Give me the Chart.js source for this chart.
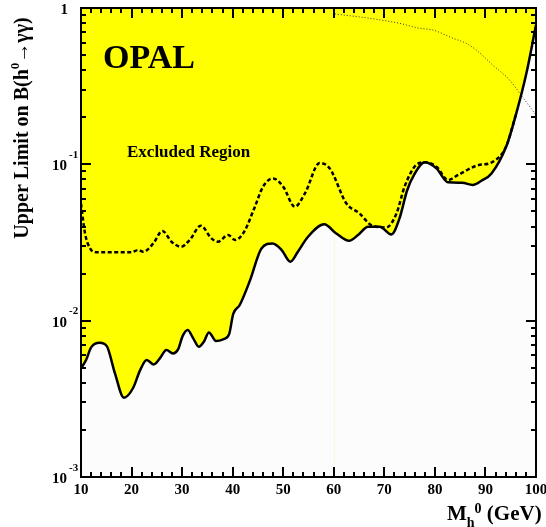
<!DOCTYPE html>
<html>
<head>
<meta charset="utf-8">
<script src="https://cdn.jsdelivr.net/npm/chart.js@4/dist/chart.umd.min.js"></script>
<style>
  body { margin: 0; background: #fff; }
  canvas { display: block; }
</style>
</head>
<body>
<canvas id="myChart" width="546" height="527"></canvas>
<script>
// observed upper limit (solid line, yellow region above it is excluded)
const massObs = [10, 11, 12, 13.7, 15.1, 16.7, 18.5, 20.3, 21.7, 23, 24.4, 25.6, 26.9, 28.2, 29.2, 30.1,
    31.1, 32.2, 33.3, 34.3, 35.3, 36.7, 38.1, 39.3, 40.1, 41.4, 43.4, 45.7, 47.9, 49.7, 51.4, 52.9,
    54.9, 58.1, 60.5, 63, 64.8, 66.8, 69.1, 71.4, 73, 74.5, 75.9, 78, 80.3, 82.6, 85.4, 87.5, 89.2,
    91.2, 94.1, 96.1, 98.1, 100];
const limitObs = [0.00495, 0.0056, 0.00675, 0.00722, 0.00687, 0.00462, 0.00321, 0.00371, 0.00483, 0.0056,
    0.00525, 0.00574, 0.00649, 0.00617, 0.00655, 0.00796, 0.00871, 0.00771, 0.00681, 0.00733, 0.00841,
    0.00741, 0.00759, 0.0082, 0.011, 0.0126, 0.018, 0.029, 0.0312, 0.0283, 0.0238, 0.0276, 0.0344,
    0.0413, 0.0361, 0.0324, 0.0353, 0.0399, 0.0399, 0.0356, 0.0451, 0.068, 0.086, 0.103, 0.0942,
    0.0768, 0.0762, 0.0738, 0.0785, 0.0875, 0.13, 0.212, 0.382, 0.78];

// expected limit (dashed line)
const massExp = [10, 10.8, 11.8, 13.1, 20, 21.3, 22.3, 24.3, 26.1, 27.9, 29.8, 31.5, 33.7, 35.8, 37.1,
    39.1, 40.5, 42.2, 44.4, 46, 48, 50, 52.3, 54.3, 57.2, 59.2, 62.5, 65.1, 67.4, 70.4, 72.4, 74,
    76.3, 78, 80.3, 82.6, 84.6, 88.2, 91.5, 94.1, 96.1];
const limitExp = [0.056, 0.0361, 0.029, 0.0274, 0.0274, 0.0283, 0.0276, 0.0312, 0.0375, 0.032, 0.0297,
    0.0328, 0.0405, 0.0336, 0.032, 0.0353, 0.0328, 0.0367, 0.0536, 0.0719, 0.0813, 0.0719, 0.0536,
    0.0652, 0.102, 0.0942, 0.0562, 0.0485, 0.0409, 0.0395, 0.0485, 0.0719, 0.0991, 0.103, 0.0966,
    0.0794, 0.0855, 0.098, 0.104, 0.13, 0.212];

// thin dotted curve
const massDot = [60.2, 67.1, 73, 77, 79.6, 83.6, 86.2, 88.2, 91.5, 94.8, 96.8, 100];
const brDot = [0.916, 0.859, 0.798, 0.741, 0.723, 0.64, 0.594, 0.538, 0.43, 0.346, 0.284, 0.207];

const xTicks = [10, 20, 30, 40, 50, 60, 70, 80, 90, 100];
const yTicks = [0.001, 0.01, 0.1, 1];
const yTickLabels = [["10", "-3"], ["10", "-2"], ["10", "-1"], ["1", ""]];

const serif = "'Liberation Serif', 'Times New Roman', serif";

function pts(xs, ys) {
    return xs.map((m, i) => ({ x: m, y: ys[i] }));
}

// draws pieces of text one after another, each with its own size and shift
function drawRich(ctx, parts, x, y, align) {
    let total = 0;
    parts.forEach(p => {
        ctx.font = "bold " + p.size + "px " + serif;
        p.w = ctx.measureText(p.t).width;
        total += p.w;
    });
    let cx = align === "center" ? x - total / 2 : (align === "right" ? x - total : x);
    ctx.textAlign = "left";
    parts.forEach(p => {
        ctx.font = "bold " + p.size + "px " + serif;
        ctx.fillText(p.t, cx, y + (p.dy || 0));
        cx += p.w;
    });
}

const framePlugin = {
    id: "frame",
    beforeDraw(chart) {
        const { ctx, chartArea: a, scales } = chart;
        ctx.save();
        ctx.fillStyle = "#fcfcfc";
        ctx.fillRect(a.left, a.top, a.right - a.left, a.bottom - a.top);
        // faint line left over at 60 GeV
        ctx.fillStyle = "#f8f8dc";
        ctx.fillRect(Math.round(scales.x.getPixelForValue(60)), a.top, 1, a.bottom - a.top);
        ctx.restore();
    },
    afterDraw(chart) {
        const { ctx, chartArea: a, scales } = chart;
        const xs = scales.x, ys = scales.y;
        ctx.save();
        ctx.fillStyle = "#000";

        // ticks on the x axes, bottom and top, pointing inwards
        for (let m = 10; m <= 100; m += 2) {
            const px = Math.round(xs.getPixelForValue(m));
            const len = m % 10 === 0 ? 10 : 5;
            ctx.fillRect(px - 1, a.bottom - len, 2, len);
            ctx.fillRect(px - 1, a.top, 2, len);
        }
        // ticks on the y axes, left and right
        for (let d = -3; d < 0; d++) {
            for (let k = 1; k <= 9; k++) {
                const py = Math.round(ys.getPixelForValue(k * Math.pow(10, d)));
                const len = k === 1 ? 10 : 5;
                ctx.fillRect(a.left, py - 1, len, 2);
                ctx.fillRect(a.right - len, py - 1, len, 2);
            }
        }

        // frame
        ctx.fillRect(a.left - 1, a.top - 1, a.right - a.left + 2, 2);
        ctx.fillRect(a.left - 1, a.bottom - 1, a.right - a.left + 2, 2);
        ctx.fillRect(a.left - 1, a.top - 1, 2, a.bottom - a.top + 2);
        ctx.fillRect(a.right - 1, a.top - 1, 2, a.bottom - a.top + 2);

        // x tick labels
        ctx.textBaseline = "alphabetic";
        ctx.textAlign = "center";
        ctx.font = "bold 15px " + serif;
        xTicks.forEach(v => {
            ctx.fillText(String(v), xs.getPixelForValue(v), a.bottom + 17);
        });

        // y tick labels with superscript powers
        yTicks.forEach((v, i) => {
            const py = ys.getPixelForValue(v);
            const lab = yTickLabels[i];
            ctx.textAlign = "right";
            ctx.font = "bold 15px " + serif;
            if (lab[1] === "") {
                ctx.fillText(lab[0], a.left - 13, py + 6);
            } else {
                ctx.fillText(lab[0], a.left - 14, py + 6);
                ctx.textAlign = "left";
                ctx.font = "bold 11px " + serif;
                ctx.fillText(lab[1], a.left - 12, py - 6.5);
            }
        });

        // axis titles
        ctx.save();
        ctx.translate(28, 128);
        ctx.rotate(-Math.PI / 2);
        drawRich(ctx, [
            { t: "Upper Limit on B(h", size: 20 },
            { t: "0", size: 13, dy: -9 },
            { t: "\u2192\u03b3\u03b3)", size: 20 }
        ], 0, 0, "center");
        ctx.restore();

        drawRich(ctx, [
            { t: "M", size: 21 },
            { t: "h", size: 14, dy: 7 },
            { t: "0", size: 14, dy: -7 },
            { t: " (GeV)", size: 21 }
        ], 447, 520, "left");

        // labels inside the plot
        drawRich(ctx, [{ t: "OPAL", size: 34 }], 103, 68, "left");
        drawRich(ctx, [{ t: "Excluded Region", size: 17 }], 127, 157, "left");
        ctx.restore();
    }
};

const ctx = document.getElementById("myChart").getContext("2d");

const chart = new Chart(ctx, {
    type: "line",
    data: {
        datasets: [{
            label: "observed",
            data: pts(massObs, limitObs),
            borderColor: "#000",
            borderWidth: 2.5,
            backgroundColor: "#ffff00",
            fill: "end",
            pointRadius: 0,
            cubicInterpolationMode: "monotone"
        }, {
            label: "expected",
            data: pts(massExp, limitExp),
            borderColor: "#000",
            borderWidth: 2.5,
            borderDash: [4, 2.5],
            fill: false,
            pointRadius: 0,
            cubicInterpolationMode: "monotone"
        }, {
            label: "dotted",
            data: pts(massDot, brDot),
            borderColor: "#333",
            borderWidth: 1,
            borderDash: [1, 2],
            fill: false,
            pointRadius: 0,
            cubicInterpolationMode: "monotone"
        }]
    },
    options: {
        responsive: false,
        devicePixelRatio: 1,
        animation: false,
        layout: { padding: { left: 81, right: 10, top: 8, bottom: 50 } },
        scales: {
            x: { type: "linear", min: 10, max: 100, display: false },
            y: { type: "logarithmic", min: 0.001, max: 1, display: false }
        },
        plugins: {
            legend: { display: false },
            tooltip: { enabled: false },
            filler: { drawTime: "beforeDatasetsDraw" }
        }
    },
    plugins: [framePlugin]
});
</script>
</body>
</html>
